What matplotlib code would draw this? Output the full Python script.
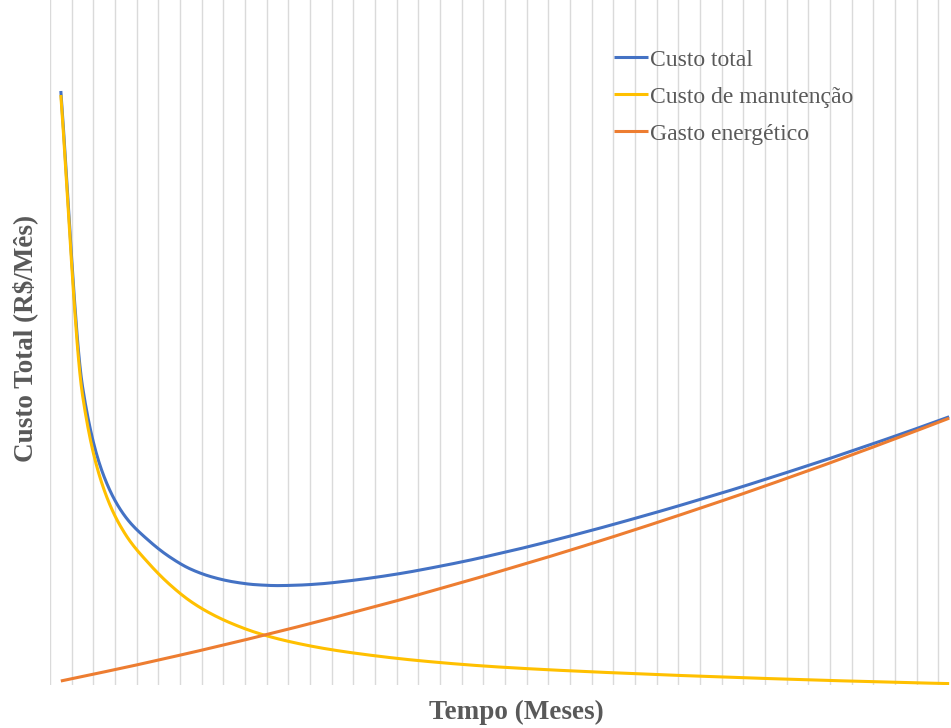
import numpy as np
import matplotlib
matplotlib.use("Agg")
import matplotlib.pyplot as plt

# custo mensal (R$/mês) por mês de operação
meses = np.arange(1, 43)
custo_manutencao = [590, 290, 195, 150, 123, 101, 83.5, 70.5, 60.5, 52.5, 46.3,
                    41.3, 37.1, 33.6, 30.6, 27.9, 25.5, 23.4, 21.5, 19.8, 18.3,
                    17.0, 15.8, 14.7, 13.7, 12.7, 11.8, 10.9, 10.0, 9.2, 8.4,
                    7.6, 6.9, 6.2, 5.5, 4.8, 4.2, 3.6, 3.0, 2.4, 1.9, 1.4]
gasto_energetico = [4, 8.5, 13.1, 17.7, 22.5, 27.4, 32.3, 37.4, 42.5, 47.8, 53.1,
                    58.6, 64.1, 69.8, 75.5, 81.3, 87.2, 93.3, 99.4, 105.6, 112.0,
                    118.3, 124.8, 131.4, 138.1, 144.9, 151.8, 158.8, 165.9, 173.1,
                    180.4, 187.7, 195.2, 202.8, 210.5, 218.2, 226.1, 234.0, 242.1,
                    250.2, 258.5, 266.8]
custo_total = [594.0, 298.5, 208.1, 167.7, 145.5, 128.4, 115.8, 107.9, 103.0,
               100.3, 99.4, 99.9, 101.2, 103.4, 106.1, 109.2, 112.7, 116.7,
               120.9, 125.4, 130.3, 135.3, 140.6, 146.1, 151.8, 157.6, 163.6,
               169.7, 175.9, 182.3, 188.8, 195.3, 202.1, 209.0, 216.0, 223.0,
               230.3, 237.6, 245.1, 252.6, 260.4, 268.2]


def suavizar(x, y, n=16):
    # interpolação cúbica monótona (Fritsch-Carlson) só para o traçado
    x = np.asarray(x, float)
    y = np.asarray(y, float)
    h = np.diff(x)
    d = np.diff(y) / h
    m = np.zeros_like(y)
    for k in range(1, len(y) - 1):
        if d[k - 1] * d[k] > 0:
            m[k] = 2 / (1 / d[k - 1] + 1 / d[k])
    m[0] = d[0]
    m[-1] = d[-1]
    xs, ys = [], []
    t = np.linspace(0, 1, n, endpoint=False)
    for k in range(len(y) - 1):
        h00 = 2 * t**3 - 3 * t**2 + 1
        h10 = t**3 - 2 * t**2 + t
        h01 = -2 * t**3 + 3 * t**2
        h11 = t**3 - t**2
        xs.extend(x[k] + t * h[k])
        ys.extend(h00 * y[k] + h10 * h[k] * m[k] + h01 * y[k + 1]
                  + h11 * h[k] * m[k + 1])
    xs.append(x[-1])
    ys.append(y[-1])
    return np.array(xs), np.array(ys)


plt.rcParams['font.family'] = ['Liberation Serif', 'DejaVu Serif']

W, H = 951, 728
fig = plt.figure(figsize=(W / 100, H / 100), dpi=100)
ax = fig.add_axes([50 / W, 43 / H, 910 / W, 685 / H])

pos = np.arange(len(meses))
series = [
    (custo_total, '#4472C4', 'Custo total'),
    (custo_manutencao, '#FFC000', 'Custo de manutenção'),
    (gasto_energetico, '#ED7D31', 'Gasto energético'),
]
for vals, cor, nome in series:
    xs, ys = suavizar(pos, vals)
    ax.plot(xs, ys, color=cor, lw=2.2, label=nome, solid_capstyle='butt')

# grade vertical entre categorias
for b in np.arange(-0.5, len(meses) + 0.5, 1):
    ax.axvline(b, color='#dadada', lw=1.0, zorder=0)

ax.set_xlim(-0.5, len(meses) - 0.5)
ax.set_ylim(0, 685)
ax.set_xticks([])
ax.set_yticks([])
for s in ax.spines.values():
    s.set_visible(False)

leg = ax.legend(loc='upper left', bbox_to_anchor=(614 / W, 1 - 49 / H),
                bbox_transform=fig.transFigure, frameon=False,
                fontsize=17, handlelength=1.45, handletextpad=0.08,
                labelspacing=0.66, borderaxespad=0, borderpad=0)
for txt in leg.get_texts():
    txt.set_color('#595959')

fig.text(516 / W, 1 - 712 / H, 'Tempo (Meses)', ha='center', va='center',
         fontsize=19.5, fontweight='bold', color='#595959')
fig.text(25 / W, 1 - 338 / H, 'Custo Total (R$/Mês)', ha='center', va='center',
         rotation=90, fontsize=19.5, fontweight='bold', color='#595959')

fig.savefig('out.png', dpi=100)
